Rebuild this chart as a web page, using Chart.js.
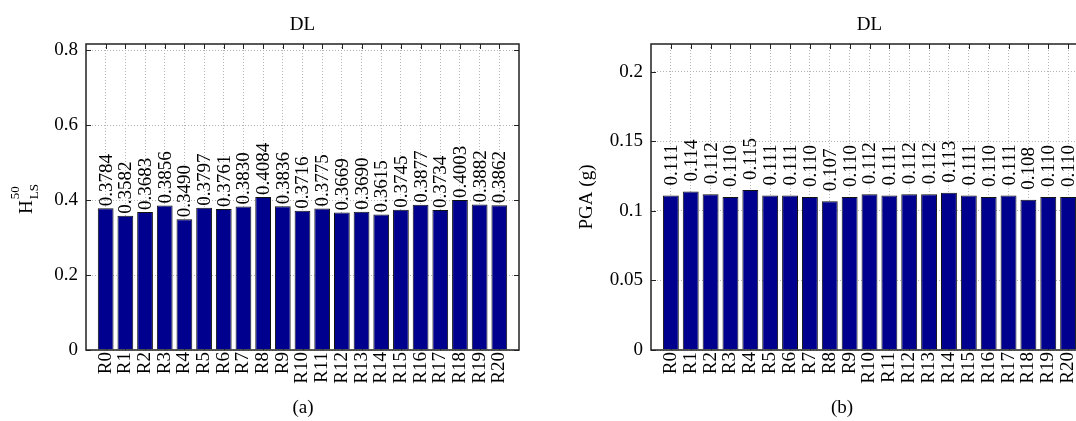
<!DOCTYPE html>
<html>
<head>
<meta charset="utf-8">
<script src="https://cdn.jsdelivr.net/npm/chart.js@4/dist/chart.umd.min.js"></script>
<style>
  html, body { margin: 0; padding: 0; background: #fff; }
  #wrap { position: relative; width: 1076px; height: 421px; overflow: hidden; }
  canvas { position: absolute; top: 0; }
  #hlsChart { left: 0; }
  #pgaChart { left: 540px; }
  .cap { position: absolute; top: 396px; font: 19px "Liberation Serif", "Times New Roman", serif; transform: translateX(-50%); }
</style>
</head>
<body>
<div id="wrap">
  <canvas id="hlsChart" width="540" height="421"></canvas>
  <canvas id="pgaChart" width="570" height="421"></canvas>
  <div class="cap" style="left:303px">(a)</div>
  <div class="cap" style="left:842px">(b)</div>
</div>
<script>
const FONT = '"Liberation Serif", "Times New Roman", serif';

// Categories and values
const categories = ['R0', 'R1', 'R2', 'R3', 'R4', 'R5', 'R6', 'R7', 'R8', 'R9', 'R10',
                    'R11', 'R12', 'R13', 'R14', 'R15', 'R16', 'R17', 'R18', 'R19', 'R20'];
const hlsValues = [0.3784, 0.3582, 0.3683, 0.3856, 0.3490, 0.3797, 0.3761, 0.3830, 0.4084, 0.3836, 0.3716,
                   0.3775, 0.3669, 0.3690, 0.3615, 0.3745, 0.3877, 0.3734, 0.4003, 0.3882, 0.3862];
const pgaValues = [0.111, 0.114, 0.112, 0.110, 0.115, 0.111, 0.111, 0.110, 0.107, 0.110, 0.112,
                   0.111, 0.112, 0.112, 0.113, 0.111, 0.110, 0.111, 0.108, 0.110, 0.110];
const hlsTicks = [0, 0.2, 0.4, 0.6, 0.8];
const pgaTicks = [0, 0.05, 0.1, 0.15, 0.2];

// MATLAB puts bars at x = 1..21 with xlim [0 22]
const xPositions = categories.map((c, i) => i + 1);

// Y title with super/subscript: H^50_LS
function drawHlsTitle(ctx) {
  ctx.save();
  ctx.translate(32, 214);
  ctx.rotate(-Math.PI / 2);
  ctx.fillStyle = '#000';
  ctx.textAlign = 'left';
  ctx.textBaseline = 'alphabetic';
  ctx.font = '19px ' + FONT;
  ctx.fillText('H', 0, 0);
  const w = ctx.measureText('H').width;
  ctx.font = '13px ' + FONT;
  ctx.fillText('50', w + 1, -13);
  ctx.fillText('LS', w + 1, 6);
  ctx.restore();
}

function drawPgaTitle(ctx) {
  ctx.save();
  ctx.translate(587 - 540, 197);
  ctx.rotate(-Math.PI / 2);
  ctx.fillStyle = '#000';
  ctx.textAlign = 'center';
  ctx.textBaseline = 'middle';
  ctx.font = '19px ' + FONT;
  ctx.fillText('PGA (g)', 0, 0);
  ctx.restore();
}

// Box, inward ticks, title and rotated value labels (MATLAB look)
function makeAxesPlugin(digits, gap, drawYTitle) {
  return {
    id: 'matlabAxes',
    beforeDatasetsDraw(chart) {
      const { ctx, chartArea: a, scales: { x, y } } = chart;
      const len = 5;
      ctx.save();
      ctx.strokeStyle = '#222';
      ctx.lineWidth = 1;
      ctx.beginPath();
      x.ticks.forEach(t => {
        const px = Math.round(x.getPixelForValue(t.value)) + 0.5;
        ctx.moveTo(px, a.top); ctx.lineTo(px, a.top + len);
        ctx.moveTo(px, a.bottom); ctx.lineTo(px, a.bottom - len);
      });
      y.ticks.forEach(t => {
        const py = Math.round(y.getPixelForValue(t.value)) + 0.5;
        ctx.moveTo(a.left, py); ctx.lineTo(a.left + len, py);
        ctx.moveTo(a.right, py); ctx.lineTo(a.right - len, py);
      });
      ctx.stroke();
      ctx.restore();
    },
    afterDatasetsDraw(chart) {
      const { ctx, chartArea: a } = chart;
      const meta = chart.getDatasetMeta(0);
      const data = chart.data.datasets[0].data;
      ctx.save();
      ctx.fillStyle = '#000';
      ctx.font = '19px ' + FONT;
      ctx.textAlign = 'left';
      ctx.textBaseline = 'middle';
      meta.data.forEach((bar, i) => {
        ctx.save();
        ctx.translate(bar.x + 1, bar.y - gap);
        ctx.rotate(-Math.PI / 2);
        ctx.fillText(data[i].y.toFixed(digits), 0, 0);
        ctx.restore();
      });
      ctx.strokeStyle = '#222';
      ctx.lineWidth = 1.5;
      ctx.strokeRect(a.left, a.top, a.right - a.left, a.bottom - a.top);
      ctx.textAlign = 'center';
      ctx.fillText('DL', (a.left + a.right) / 2, 25);
      ctx.restore();
      drawYTitle(ctx);
    }
  };
}

function buildChart(id, values, yTicks, yMax, yWidth, rightPad, plugin) {
  return new Chart(document.getElementById(id), {
    type: 'bar',
    data: {
      datasets: [{
        data: xPositions.map((x, i) => ({ x: x, y: values[i] })),
        backgroundColor: '#00008F',
        borderColor: '#111',
        borderWidth: 1,
        barPercentage: 0.8,
        categoryPercentage: 1
      }]
    },
    options: {
      responsive: false,
      animation: false,
      devicePixelRatio: 1,
      layout: { padding: { top: 44, right: rightPad, left: 0, bottom: 0 } },
      plugins: { legend: { display: false }, tooltip: { enabled: false }, title: { display: false } },
      scales: {
        x: {
          type: 'linear',
          min: 0,
          max: 22,
          offset: false,
          afterBuildTicks: s => { s.ticks = xPositions.map(v => ({ value: v })); },
          afterFit: s => { s.height = 71; },
          ticks: {
            autoSkip: false,
            minRotation: 90,
            maxRotation: 90,
            padding: 2,
            color: '#000',
            font: { family: FONT, size: 19 },
            callback: v => categories[v - 1]
          },
          grid: { color: '#b4b4b4', lineWidth: 1, drawTicks: false, offset: false },
          border: { display: false, dash: [1, 2] }
        },
        y: {
          type: 'linear',
          min: 0,
          max: yMax,
          afterBuildTicks: s => { s.ticks = yTicks.map(v => ({ value: v })); },
          afterFit: s => { s.width = yWidth; },
          ticks: {
            padding: 8,
            color: '#000',
            font: { family: FONT, size: 19 },
            callback: v => String(v)
          },
          grid: { color: '#b4b4b4', lineWidth: 1, drawTicks: false },
          border: { display: false, dash: [1, 2] }
        }
      }
    },
    plugins: [plugin]
  });
}

buildChart('hlsChart', hlsValues, hlsTicks, 0.8168, 86, 21, makeAxesPlugin(4, 2, drawHlsTitle));
buildChart('pgaChart', pgaValues, pgaTicks, 0.22, 111, 22, makeAxesPlugin(3, 10, drawPgaTitle));
</script>
</body>
</html>
